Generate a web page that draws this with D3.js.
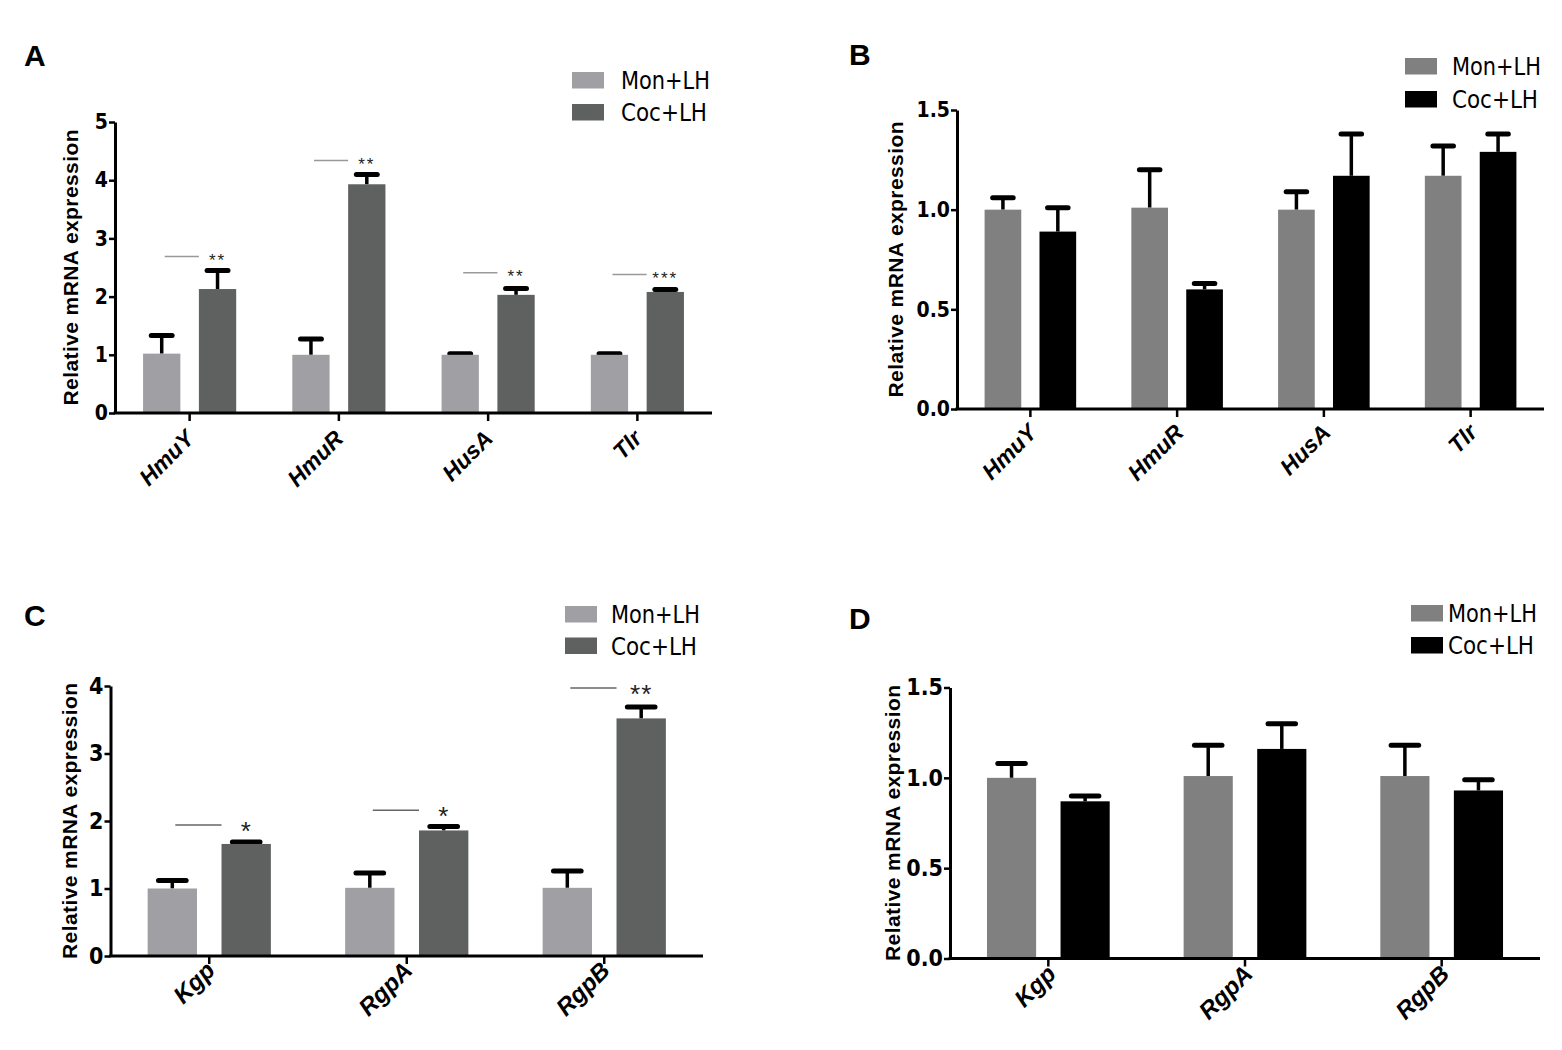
<!DOCTYPE html>
<html>
<head>
<meta charset="utf-8">
<script src="https://cdn.jsdelivr.net/npm/d3@7"></script>
<style>
  body { margin: 0; background: #fff; }
  svg { display: block; }
</style>
</head>
<body>
<div id="chart"></div>
<script>
// ---- data ----
const groups = ["Mon+LH", "Coc+LH"];

const ironGenes = ["HmuY", "HmuR", "HusA", "Tlr"];
const aMon = [1.02, 1.00, 1.00, 1.00];
const aMonErr = [0.31, 0.27, 0.02, 0.02];
const aCoc = [2.13, 3.93, 2.03, 2.08];
const aCocErr = [0.32, 0.17, 0.11, 0.04];
const aSigY = [2.69, 4.34, 2.41, 2.38];
const aSigText = ["**", "**", "**", "***"];

const bMon = [1.00, 1.01, 1.00, 1.17];
const bMonErr = [0.06, 0.19, 0.09, 0.15];
const bCoc = [0.89, 0.60, 1.17, 1.29];
const bCocErr = [0.12, 0.03, 0.21, 0.09];

const gingipains = ["Kgp", "RgpA", "RgpB"];
const cMon = [1.00, 1.01, 1.01];
const cMonErr = [0.12, 0.22, 0.25];
const cCoc = [1.66, 1.86, 3.52];
const cCocErr = [0.03, 0.06, 0.17];
const cSigY = [1.94, 2.16, 3.97];
const cSigText = ["*", "*", "**"];

const dMon = [1.00, 1.01, 1.01];
const dMonErr = [0.08, 0.17, 0.17];
const dCoc = [0.87, 1.16, 0.93];
const dCocErr = [0.03, 0.14, 0.06];

const yTicksInt5 = [0, 1, 2, 3, 4, 5];
const yTicksInt4 = [0, 1, 2, 3, 4];
const yTicksHalf = [0, 0.5, 1.0, 1.5];

const yTitle = "Relative mRNA expression";

// ---- drawing ----
const svg = d3.select("#chart").append("svg")
    .attr("width", 1562)
    .attr("height", 1050);

const tickFont = "'Liberation Sans', Arial, sans-serif";
const narrowFont = "'Liberation Sans Narrow', 'Arial Narrow', 'DejaVu Sans Condensed', sans-serif";

function drawPanel(p) {
    let g = svg.append("g");

    const x0 = d3.scaleBand()
        .domain(p.cats)
        .range([p.left, p.right])
        .paddingInner(0.376)
        .paddingOuter(0.188);

    const x1 = d3.scaleBand()
        .domain(groups)
        .range([0, x0.bandwidth()])
        .paddingInner(0.332);

    const y = d3.scaleLinear()
        .domain([0, p.yMax])
        .range([p.bottom, p.top]);

    const colors = d3.scaleOrdinal().domain(groups).range(p.colors);

    const rows = p.cats.flatMap((c, i) => [
        {cat: c, grp: groups[0], v: p.mon[i], e: p.monErr[i]},
        {cat: c, grp: groups[1], v: p.coc[i], e: p.cocErr[i]}
    ]);

    // error bars (upper only)
    const capW = x1.bandwidth() * 0.56;
    const eb = g.selectAll(".err").data(rows).enter().append("g").attr("class", "err");
    eb.append("line")
        .attr("x1", d => x0(d.cat) + x1(d.grp) + x1.bandwidth() / 2)
        .attr("x2", d => x0(d.cat) + x1(d.grp) + x1.bandwidth() / 2)
        .attr("y1", d => y(d.v))
        .attr("y2", d => y(d.v + d.e))
        .attr("stroke", "#000")
        .attr("stroke-width", 3.5);
    eb.append("line")
        .attr("x1", d => x0(d.cat) + x1(d.grp) + x1.bandwidth() / 2 - capW / 2)
        .attr("x2", d => x0(d.cat) + x1(d.grp) + x1.bandwidth() / 2 + capW / 2)
        .attr("y1", d => y(d.v + d.e))
        .attr("y2", d => y(d.v + d.e))
        .attr("stroke", "#000")
        .attr("stroke-width", 5)
        .attr("stroke-linecap", "round");

    // bars
    g.selectAll(".bar").data(rows).enter().append("rect")
        .attr("class", "bar")
        .attr("x", d => x0(d.cat) + x1(d.grp))
        .attr("width", x1.bandwidth())
        .attr("y", d => y(d.v))
        .attr("height", d => y(0) - y(d.v))
        .attr("fill", d => colors(d.grp));

    // significance marks
    if (p.sigY) {
        p.cats.forEach((c, i) => {
            const monC = x0(c) + x1(groups[0]) + x1.bandwidth() / 2;
            const cocL = x0(c) + x1(groups[1]);
            const cocC = cocL + x1.bandwidth() / 2;
            g.append("line")
                .attr("x1", monC + 3).attr("x2", cocL)
                .attr("y1", y(p.sigY[i])).attr("y2", y(p.sigY[i]))
                .attr("stroke", p.sigColor)
                .attr("stroke-width", 1.5);
            g.append("text")
                .attr("x", cocC)
                .attr("y", y(p.sigY[i]) + p.starSize * 0.57)
                .attr("text-anchor", "middle")
                .attr("font-family", tickFont)
                .attr("font-size", p.starSize)
                .attr("letter-spacing", p.starSpacing)
                .attr("fill", "#222")
                .text(p.sigText[i]);
        });
    }

    // y axis
    const yAxis = d3.axisLeft(y)
        .tickValues(p.yTicks)
        .tickFormat(p.fmt)
        .tickSize(6)
        .tickSizeOuter(0)
        .tickPadding(1);
    const ya = g.append("g")
        .attr("transform", `translate(${p.left},0)`)
        .call(yAxis);
    ya.select(".domain").attr("stroke-width", 3).attr("stroke", "#000");
    ya.selectAll(".tick line").attr("stroke-width", 2.5);
    ya.selectAll(".tick text")
        .attr("font-family", narrowFont)
        .attr("font-weight", "bold")
        .attr("font-size", p.tickSize)
        .attr("fill", "#000");

    // x axis
    g.append("line")
        .attr("x1", p.left - 1.5).attr("x2", p.right)
        .attr("y1", y(0)).attr("y2", y(0))
        .attr("stroke", "#000").attr("stroke-width", 3);
    g.selectAll(".xtick").data(p.cats).enter().append("line")
        .attr("class", "xtick")
        .attr("x1", d => x0(d) + x0.bandwidth() / 2)
        .attr("x2", d => x0(d) + x0.bandwidth() / 2)
        .attr("y1", y(0)).attr("y2", y(0) + 8)
        .attr("stroke", "#000").attr("stroke-width", 2.5);
    g.selectAll(".xlab").data(p.cats).enter().append("text")
        .attr("class", "xlab")
        .attr("transform", d => `translate(${x0(d) + x0.bandwidth() / 2 + p.labelDx},${y(0) + p.labelDy}) rotate(-45)`)
        .attr("text-anchor", "end")
        .attr("font-family", tickFont)
        .attr("font-weight", "bold")
        .attr("font-style", "italic")
        .attr("font-size", p.xLabelSize)
        .text(d => d);

    // y title
    g.append("text")
        .attr("transform", `translate(${p.titleX},${(p.top + p.bottom) / 2}) rotate(-90)`)
        .attr("text-anchor", "middle")
        .attr("font-family", tickFont)
        .attr("font-weight", "bold")
        .attr("font-size", 21)
        .attr("textLength", 276)
        .attr("lengthAdjust", "spacing")
        .text(yTitle);

    // panel letter
    g.append("text")
        .attr("x", p.letterX).attr("y", p.letterY)
        .attr("font-family", tickFont)
        .attr("font-weight", "bold")
        .attr("font-size", 30)
        .text(p.letter);

    // legend
    const leg = g.selectAll(".leg").data(groups).enter().append("g")
        .attr("transform", (d, i) => `translate(${p.legX},${p.legY + i * p.legDy})`);
    leg.append("rect")
        .attr("width", 32).attr("height", 16.5)
        .attr("fill", d => colors(d));
    leg.append("text")
        .attr("x", p.legTextX - p.legX)
        .attr("y", 17)
        .attr("font-family", narrowFont)
        .attr("font-size", 24)
        .attr("textLength", (d, i) => i === 0 ? 89 : 86)
        .attr("lengthAdjust", "spacingAndGlyphs")
        .text(d => d);
}

const paleColors = ["#a0a0a4", "#5f6060"];
const darkColors = ["#808080", "#000000"];

drawPanel({
    letter: "A", letterX: 24, letterY: 66,
    cats: ironGenes, mon: aMon, monErr: aMonErr, coc: aCoc, cocErr: aCocErr,
    sigY: aSigY, sigText: aSigText, sigColor: "#999", starSize: 17, starSpacing: 2,
    left: 115, right: 712, top: 122, bottom: 413, yMax: 5,
    yTicks: yTicksInt5, fmt: d3.format("d"), tickSize: 21,
    xLabelSize: 23, labelDx: 6, labelDy: 27, titleX: 78,
    colors: paleColors,
    legX: 572, legY: 72, legDy: 32, legTextX: 621
});

drawPanel({
    letter: "B", letterX: 849, letterY: 65,
    cats: ironGenes, mon: bMon, monErr: bMonErr, coc: bCoc, cocErr: bCocErr,
    left: 957, right: 1544, top: 110, bottom: 409, yMax: 1.5,
    yTicks: yTicksHalf, fmt: d3.format(".1f"), tickSize: 21,
    xLabelSize: 23, labelDx: 8, labelDy: 25, titleX: 903,
    colors: darkColors,
    legX: 1405, legY: 58, legDy: 33, legTextX: 1452
});

drawPanel({
    letter: "C", letterX: 24, letterY: 626,
    cats: gingipains, mon: cMon, monErr: cMonErr, coc: cCoc, cocErr: cCocErr,
    sigY: cSigY, sigText: cSigText, sigColor: "#666", starSize: 26, starSpacing: 1,
    left: 110.5, right: 703, top: 686, bottom: 956, yMax: 4,
    yTicks: yTicksInt4, fmt: d3.format("d"), tickSize: 23,
    xLabelSize: 24, labelDx: 7, labelDy: 16, titleX: 77,
    colors: paleColors,
    legX: 565, legY: 606, legDy: 31.5, legTextX: 611
});

drawPanel({
    letter: "D", letterX: 849, letterY: 629,
    cats: gingipains, mon: dMon, monErr: dMonErr, coc: dCoc, cocErr: dCocErr,
    left: 950, right: 1540, top: 687.5, bottom: 958.5, yMax: 1.5,
    yTicks: yTicksHalf, fmt: d3.format(".1f"), tickSize: 23,
    xLabelSize: 24, labelDx: 9, labelDy: 17, titleX: 900,
    colors: darkColors,
    legX: 1411, legY: 605, legDy: 32, legTextX: 1448
});
</script>
</body>
</html>
